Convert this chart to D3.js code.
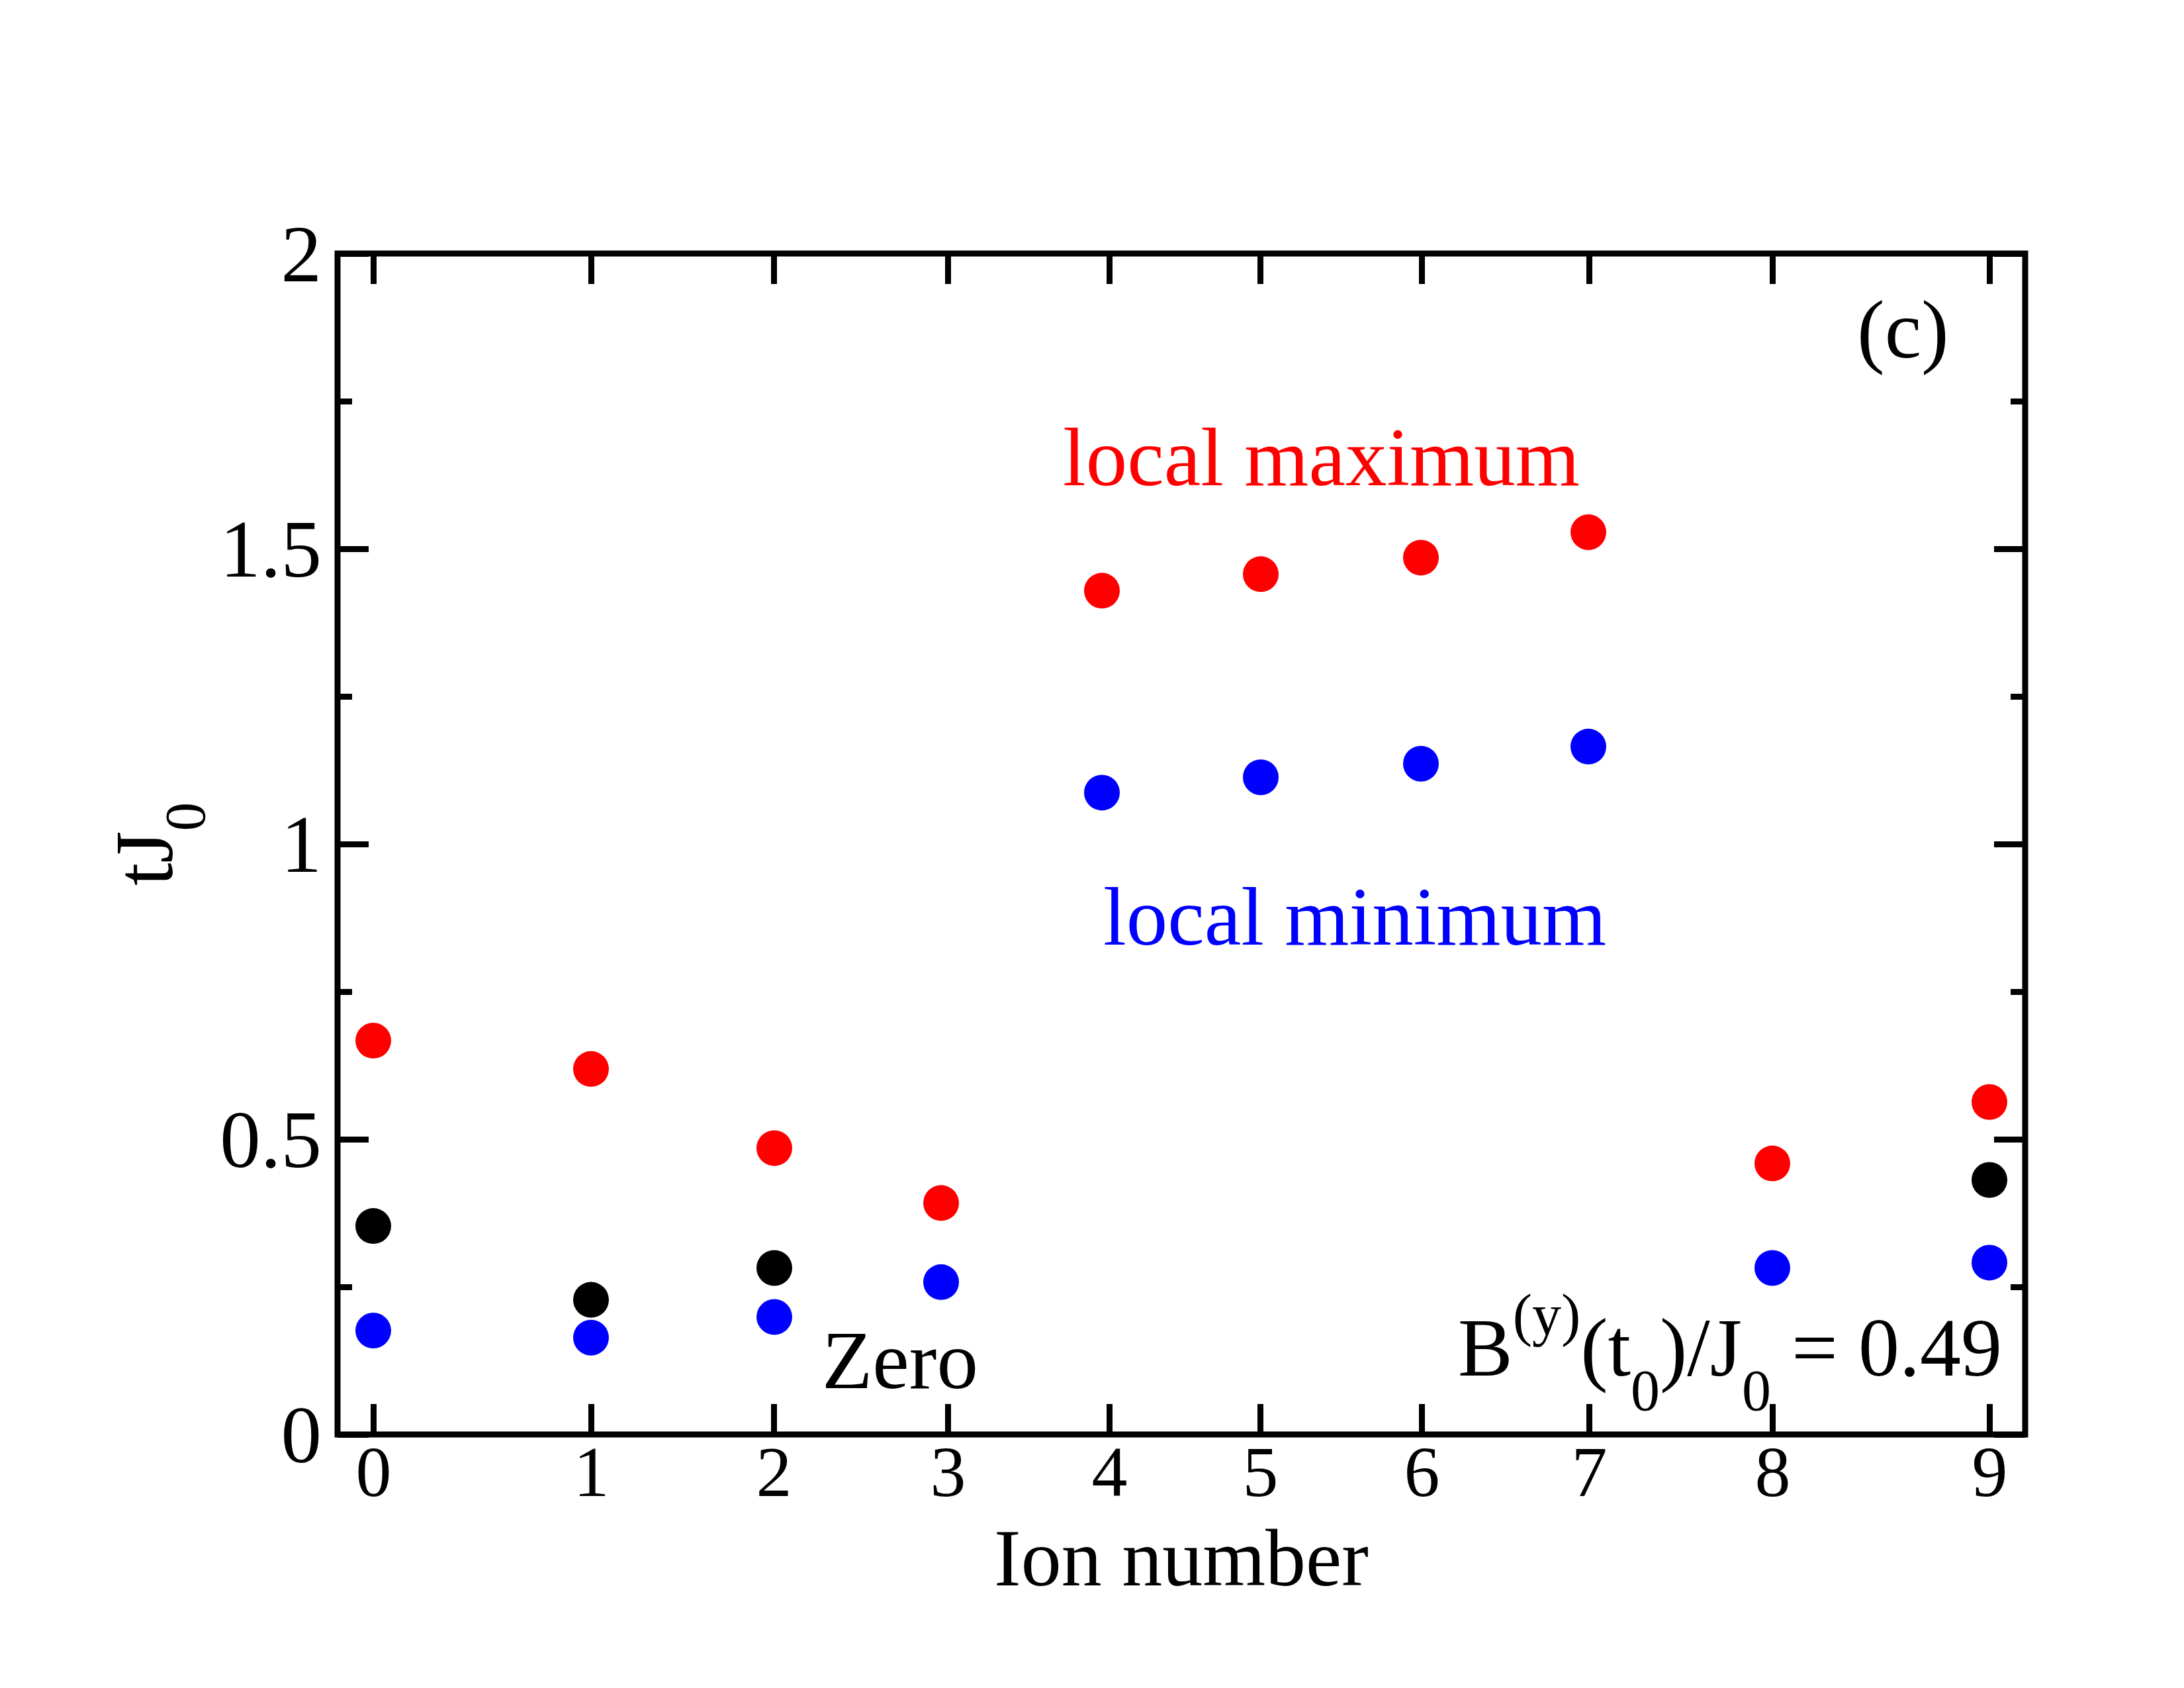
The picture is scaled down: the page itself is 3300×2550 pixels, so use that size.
<!DOCTYPE html>
<html>
<head>
<meta charset="utf-8">
<script src="https://d3js.org/d3.v7.min.js"></script>
<style>
  body { margin: 0; background: #fff; }
  text { font-family: "Liberation Serif", "Times New Roman", serif; }
</style>
</head>
<body>
<svg width="3300" height="2550"></svg>
<script>
// ion positions (x data) and tick positions / labels on the x axis
var ionX = [-12.21, -8.92, -6.15, -3.63, -1.20, 1.20, 3.62, 6.15, 8.93, 12.21];
var xTickPos = [-12.21, -8.92, -6.16, -3.53, -1.09, 1.19, 3.63, 6.16, 8.93, 12.21];
var xTickLabels = ['0', '1', '2', '3', '4', '5', '6', '7', '8', '9'];

var yMajor = [0, 0.5, 1, 1.5, 2];
var yMajorLabels = ['0', '0.5', '1', '1.5', '2'];
var yMinor = [0.25, 0.75, 1.25, 1.75];

// tJ0 values per ion
var localMax = [0.667, 0.619, 0.485, 0.392, 1.429, 1.457, 1.485, 1.528, 0.459, 0.563];
var localMin = [0.176, 0.164, 0.199, 0.258, 1.087, 1.113, 1.136, 1.165, 0.282, 0.291];
var zeroIon = [0, 1, 2, 9];
var zeroVal = [0.353, 0.228, 0.282, 0.431];

var L = 510, R = 3060, T = 383, B = 2167;

var svg = d3.select('svg');

var x = d3.scaleLinear().domain([-12.75, 12.75]).range([L, R]);
var y = d3.scaleLinear().domain([0, 2]).range([B, T]);

function styleAxis(g, fs) {
  g.select('.domain').remove();
  g.selectAll('line').attr('stroke', '#000').attr('stroke-width', 9);
  g.selectAll('text').attr('fill', '#000').style('font-size', fs + 'px')
    .style('font-family', '"Liberation Serif", "Times New Roman", serif');
}

// x axes
svg.append('g').attr('transform', 'translate(0,' + B + ')')
  .call(d3.axisBottom(x).tickValues(xTickPos).tickSize(-46).tickPadding(16)
    .tickFormat(function(d, i) { return xTickLabels[i]; }))
  .call(styleAxis, 108);
svg.append('g').attr('transform', 'translate(0,' + T + ')')
  .call(d3.axisTop(x).tickValues(xTickPos).tickSize(-46).tickFormat(''))
  .call(styleAxis, 108);

// y axes
svg.append('g').attr('transform', 'translate(' + L + ',0)')
  .call(d3.axisLeft(y).tickValues(yMajor).tickSize(-47).tickPadding(24)
    .tickFormat(function(d, i) { return yMajorLabels[i]; }))
  .call(styleAxis, 123)
  .selectAll('text').attr('dy', '0.34em');
svg.append('g').attr('transform', 'translate(' + L + ',0)')
  .call(d3.axisLeft(y).tickValues(yMinor).tickSize(-22).tickFormat(''))
  .call(styleAxis, 123);
svg.append('g').attr('transform', 'translate(' + R + ',0)')
  .call(d3.axisRight(y).tickValues(yMajor).tickSize(-47).tickFormat(''))
  .call(styleAxis, 123);
svg.append('g').attr('transform', 'translate(' + R + ',0)')
  .call(d3.axisRight(y).tickValues(yMinor).tickSize(-22).tickFormat(''))
  .call(styleAxis, 123);

// frame
svg.append('rect')
  .attr('x', L).attr('y', T).attr('width', R - L).attr('height', B - T)
  .attr('fill', 'none').attr('stroke', '#000').attr('stroke-width', 9);

// points
function dots(xs, ys, color) {
  svg.append('g').selectAll('circle')
    .data(ys).enter().append('circle')
    .attr('cx', function(d, i) { return x(xs[i]); })
    .attr('cy', function(d) { return y(d); })
    .attr('r', 27)
    .attr('fill', color);
}
dots(ionX, localMax, '#ff0000');
dots(ionX, localMin, '#0000ff');
dots(zeroIon.map(function(i) { return ionX[i]; }), zeroVal, '#000000');

// annotations
svg.append('text').attr('x', 1606).attr('y', 733).attr('fill', '#ff0000')
  .style('font-size', '125px').text('local maximum');
svg.append('text').attr('x', 1667).attr('y', 1427).attr('fill', '#0000ff')
  .style('font-size', '125px').text('local minimum');
svg.append('text').attr('x', 1242).attr('y', 2097).attr('fill', '#000')
  .style('font-size', '125px').text('Zero');
svg.append('text').attr('x', 2806).attr('y', 540).attr('fill', '#000')
  .style('font-size', '125px').text('(c)');

var bl = svg.append('text').attr('x', 3025).attr('y', 2078).attr('text-anchor', 'end')
  .attr('fill', '#000').style('font-size', '124px');
bl.append('tspan').text('B');
bl.append('tspan').attr('dy', -62).style('font-size', '88px').text('(y)');
bl.append('tspan').attr('dy', 62).text('(t');
bl.append('tspan').attr('dy', 52).style('font-size', '88px').text('0');
bl.append('tspan').attr('dy', -52).text(')/J');
bl.append('tspan').attr('dy', 52).style('font-size', '88px').text('0');
bl.append('tspan').attr('dy', -52).text(' = 0.49');

// axis titles
svg.append('text').attr('x', 1785).attr('y', 2395).attr('text-anchor', 'middle')
  .attr('fill', '#000').style('font-size', '122px').text('Ion number');

var yl = svg.append('text').attr('transform', 'translate(260,1275) rotate(-90)')
  .attr('text-anchor', 'middle').attr('fill', '#000').style('font-size', '124px');
yl.append('tspan').text('tJ');
yl.append('tspan').attr('dy', 49).style('font-size', '87px').text('0');
</script>
</body>
</html>
